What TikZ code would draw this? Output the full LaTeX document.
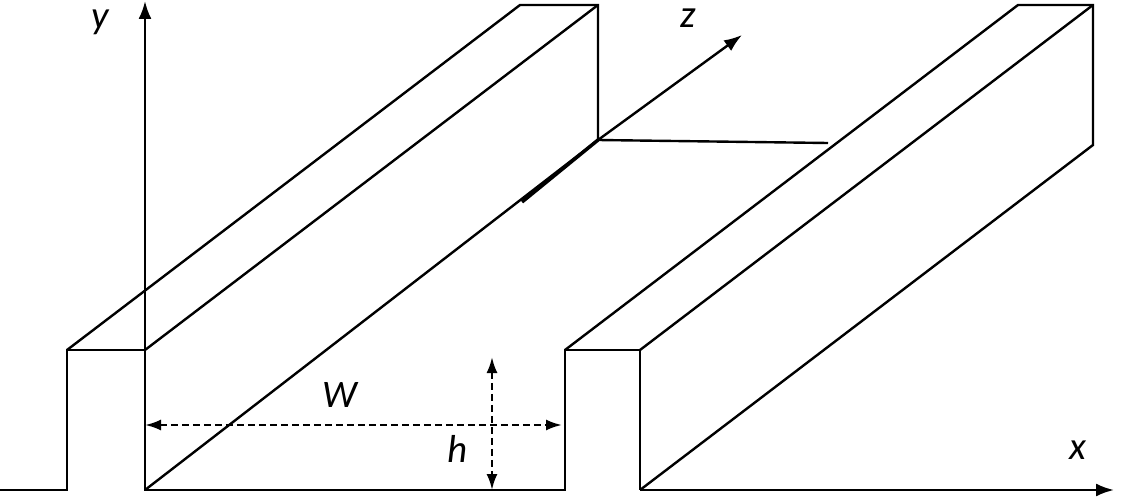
\documentclass[tikz,border=0pt]{standalone}
\usepackage{fontspec}
\setmainfont{Carlito}
\usetikzlibrary{arrows.meta,positioning,calc}
\tikzset{
  edge/.style={line width=2.4pt,line join=miter},
  axis/.style={line width=2.4pt,-{Latex[length=18pt,width=13pt]}},
  dim/.style={line width=2.4pt,dash pattern=on 7pt off 4pt,
    {Latex[length=16pt,width=11pt]}-{Latex[length=16pt,width=11pt]}},
  lbl/.style={font=\fontsize{39}{42}\selectfont\itshape,inner sep=0pt}
}
\begin{document}
\begin{tikzpicture}[x=1pt,y=-1pt]
  \useasboundingbox (0,0) rectangle (1133,500);
  % front profile
  \coordinate (o) at (145,490);
  \coordinate (a1) at (67,490);  \coordinate (a2) at (67,350);
  \coordinate (a3) at (145,350);
  \coordinate (b1) at (565,490); \coordinate (b2) at (565,350);
  \coordinate (b3) at (640,350); \coordinate (b4) at (640,490);
  % back profile
  \coordinate (c2) at (520,5);   \coordinate (c3) at (598,5);
  \coordinate (c4) at (598,140);
  \coordinate (d2) at (1018,5);  \coordinate (d3) at (1093,5);
  \coordinate (d4) at (1093,145);
  \coordinate (e) at (828,143);
  % ridges
  \draw[edge] (0,490) -- (a1) -- (a2) -- (a3) -- (o) -- (b1) -- (b2) -- (b3) -- (b4);
  \draw[edge] (a2) -- (c2) -- (c3) -- (c4) -- (e);
  \draw[edge] (a3) -- (c3);
  \draw[edge] (o) -- (c4);
  \draw[line width=3.5pt] (522,202) -- (c4);
  \draw[edge] (b2) -- (d2) -- (d3) -- (d4) -- (b4);
  \draw[edge] (b3) -- (d3);
  % axes
  \draw[axis] (b4) -- (1114,490);
  \draw[axis] (o) -- (145,1);
  \draw[axis] (c4) -- (742,35);
  \node[lbl] (xl) at (1078,450) {x};
  \node[lbl] (yl) at (100,22) {y};
  \node[lbl] (zl) at (688,18) {z};
  % dimensions
  \coordinate (w1) at (145,425); \coordinate (w2) at (562,425);
  \draw[dim] (w1) -- (w2);
  \node[lbl] (wl) at (340,395) {W};
  \coordinate (h1) at (492,357); \coordinate (h2) at (492,490);
  \draw[dim] (h1) -- (h2);
  \node[lbl] (hl) at (458,449) {h};
\end{tikzpicture}
\end{document}
